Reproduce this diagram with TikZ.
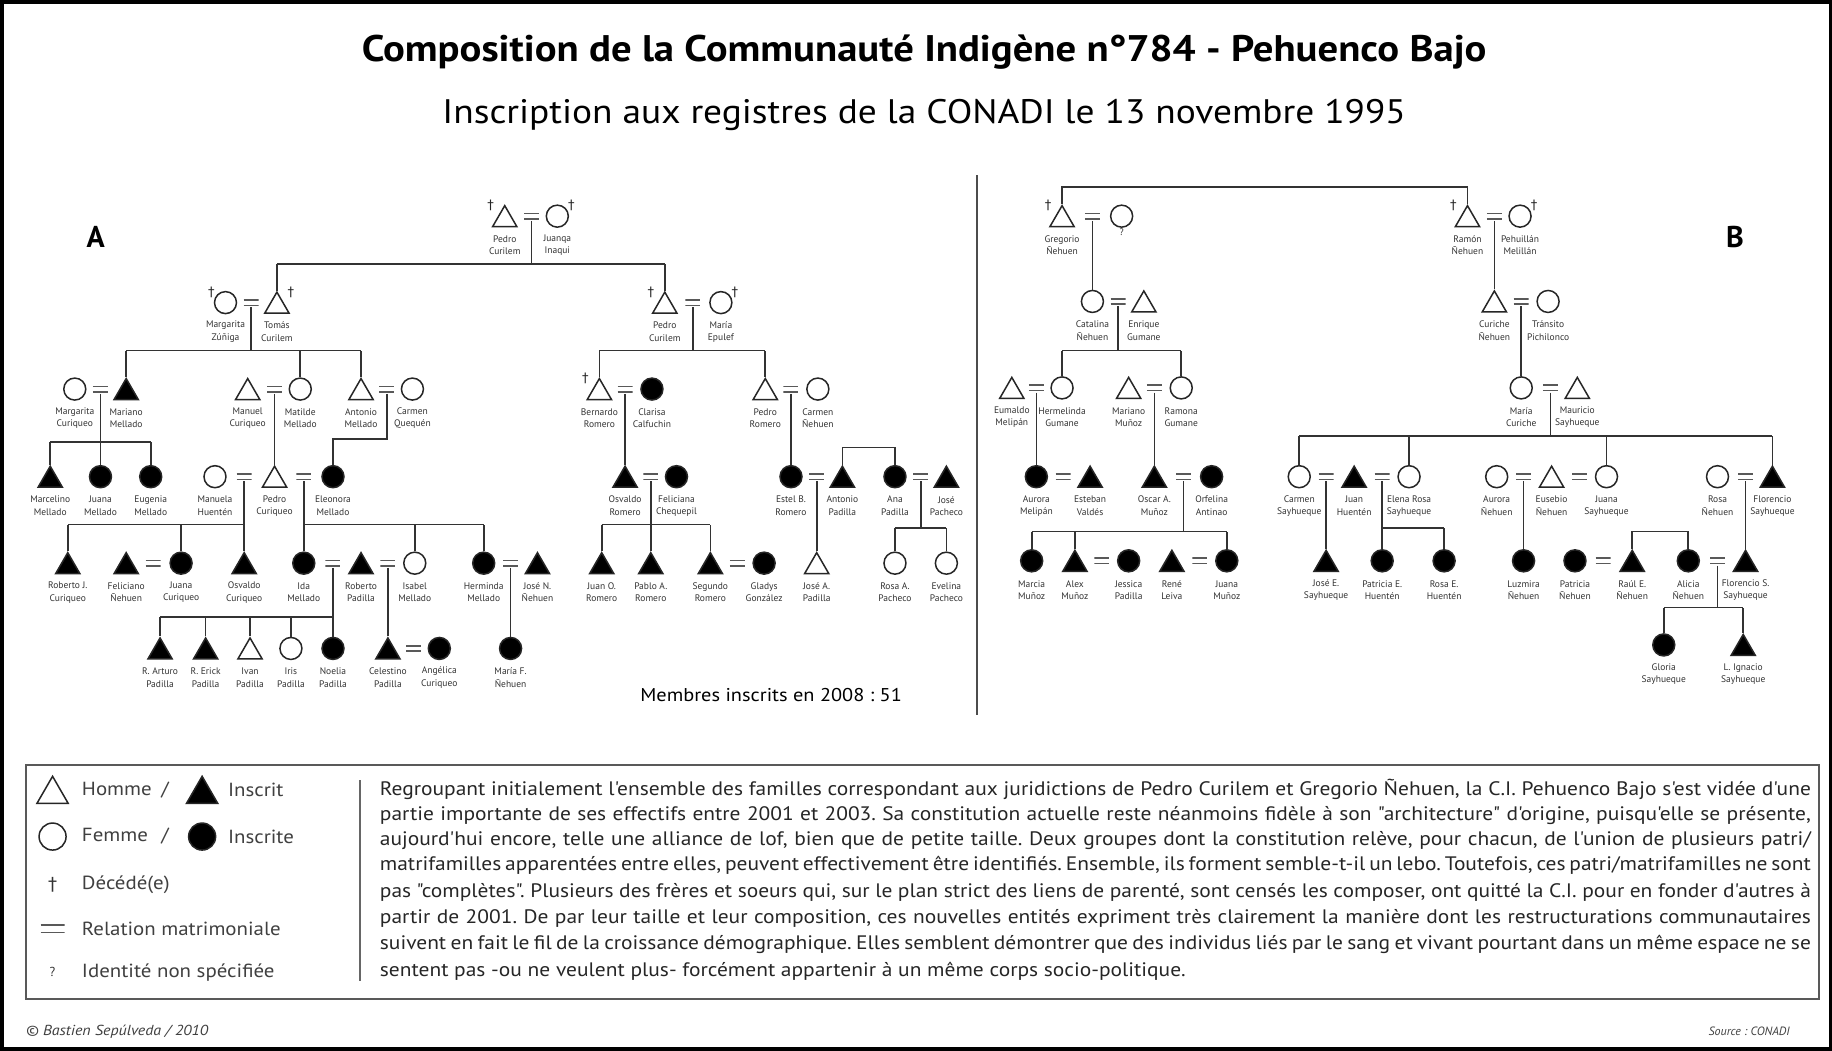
\documentclass[tikz,border=0pt]{standalone}
\usepackage{fontspec}
\setmainfont{PT Sans}
\newfontfamily\widef{PT Sans}[FakeStretch=1.1]
\newfontfamily\dejavu{DejaVu Sans}
\usetikzlibrary{shapes.geometric}
\frenchspacing
\tikzset{
 ln/.style={line width=1.7pt, black!80},
 pm/.style={draw=black!85, line width=1.5pt, regular polygon, regular polygon sides=3, minimum size=28pt, inner sep=0pt, yshift=-3.5pt},
 pmf/.style={pm, fill=black},
 pf/.style={draw=black!85, line width=1.5pt, circle, minimum size=22pt, inner sep=0pt},
 pff/.style={pf, fill=black},
 marr/.style={inner sep=0pt, minimum width=15pt, minimum height=9pt,
   path picture={\draw[line width=1.6pt, black!65]
     ([yshift=-1.8pt]path picture bounding box.north west) -- ([yshift=-1.8pt]path picture bounding box.north east)
     ([yshift=1.8pt]path picture bounding box.south west) -- ([yshift=1.8pt]path picture bounding box.south east);}},
 lab/.style={align=center, inner sep=0pt, font=\fontsize{9.5}{12.5}\selectfont, text=black!80},
 dg/.style={inner sep=0pt, font=\dejavu\fontsize{13}{13}\selectfont, text=black!85},
 legt/.style={anchor=west, inner sep=0pt, font=\widef\fontsize{19}{19}\selectfont, text=black!75},
 para/.style={anchor=west, inner sep=0pt, font=\widef\fontsize{19.5}{22}\selectfont, text=black!85},
}
\newcommand\Pers[5]{\node[#1] (#2) at (#3,#4) {}; \node[lab] (#2l) at (#3,#4+25) {#5};}
\newcommand\Mar[3]{\node[marr] (#1) at (#2,#3) {};}
\newcommand\DagL[3]{\node[dg] (#1d) at (#2-12,#3-9) {†};}
\newcommand\DagR[3]{\node[dg] (#1d) at (#2+12,#3-9) {†};}
\newcommand\Down[2]{\draw[ln] (#1.south) -- (#1.south |- #2.north);}
\newcommand\Fam[5]{%
 \draw[ln] (#1.south) -- (#1.south |- 0,#2);
 \draw[ln] (#3.north |- 0,#2) -- (#4.north |- 0,#2);
 \foreach \kid in {#5} {\draw[ln] (\kid.north) -- (\kid.north |- 0,#2);}
}
\newcommand\Sib[3]{\draw[ln] (#1.north) -- (#1.north |- 0,#3) -- (#2.north |- 0,#3) -- (#2.north);}
\begin{document}
\begin{tikzpicture}[x=1.16837pt, y=-1.16837pt]
\useasboundingbox (0,0) rectangle (1568,899.5);
\fill[white] (0,0) rectangle (1568,899.5);
\draw[line width=3.5pt] (1.5,1.5) rectangle (1566.5,898);

% titles
\node (title) at (791,45) {\widef\bfseries\fontsize{37}{40}\selectfont Composition de la Communauté Indigène n°784 - Pehuenco Bajo};
\node (sub) at (791,98) {\widef\fontsize{34}{37}\selectfont Inscription aux registres de la CONADI le 13 novembre 1995};
\node (lA) at (82,203) {\bfseries\fontsize{30}{30}\selectfont A};
\node (lB) at (1485,203) {\bfseries\fontsize{30}{30}\selectfont B};
\coordinate (dvt) at (836,150); \coordinate (dvb) at (836,612);
\draw[line width=2pt, black!70] (dvt) -- (dvb);
\node (mem) at (660,595) {\widef\fontsize{18.5}{18.5}\selectfont Membres inscrits en 2008 : 51};

%================ TREE A
% gen 0
\Pers{pm}{a0m}{432}{185}{Pedro\\Curilem} \DagL{a0m}{432}{185}
\Mar{a0}{455}{185}
\Pers{pf}{a0f}{477}{185}{Juanqa\\Inaqui} \DagR{a0f}{477}{185}
% gen 1
\Pers{pf}{a1f}{193}{259}{Margarita\\Zúñiga} \DagL{a1f}{193}{259}
\Mar{a1}{215}{259}
\Pers{pm}{a1m}{237}{259}{Tomás\\Curilem} \DagR{a1m}{237}{259}
\Pers{pm}{a2m}{569}{259}{Pedro\\Curilem} \DagL{a2m}{569}{259}
\Mar{a2}{593}{259}
\Pers{pf}{a2f}{617}{259}{María\\Epulef} \DagR{a2f}{617}{259}
\Fam{a0}{226}{a1m}{a2m}{a1m,a2m}
% gen 2 left
\Pers{pf}{b1f}{64}{333}{Margarita\\Curiqueo} \Mar{b1}{86}{333} \Pers{pmf}{b1m}{108}{333}{Mariano\\Mellado}
\Pers{pm}{b2m}{212}{333}{Manuel\\Curiqueo} \Mar{b2}{235}{333} \Pers{pf}{b2f}{257}{333}{Matilde\\Mellado}
\Pers{pm}{b3m}{309}{333}{Antonio\\Mellado} \Mar{b3}{331}{333} \Pers{pf}{b3f}{353}{333}{Carmen\\Quequén}
\Fam{a1}{300}{b1m}{b3m}{b1m,b2f,b3m}
% gen 2 right
\Pers{pm}{b4m}{513}{333}{Bernardo\\Romero} \DagL{b4m}{513}{333}
\Mar{b4}{535}{333} \Pers{pff}{b4f}{558}{333}{Clarisa\\Calfuchin}
\Pers{pm}{b5m}{655}{333}{Pedro\\Romero} \Mar{b5}{677}{333} \Pers{pf}{b5f}{700}{333}{Carmen\\Ñehuen}
\Fam{a2}{300}{b4m}{b5m}{b4m,b5m}
% gen 3 left
\Pers{pmf}{c1}{43}{408}{Marcelino\\Mellado} \Pers{pff}{c2}{86}{408}{Juana\\Mellado} \Pers{pff}{c3}{129}{408}{Eugenia\\Mellado}
\Fam{b1}{378}{c1}{c3}{c1,c2,c3}
\Pers{pf}{c4f}{184}{408}{Manuela\\Huentén} \Mar{c4}{209}{408} \Pers{pm}{c4m}{235}{408}{Pedro\\Curiqueo}
\Mar{c5}{260}{408} \Pers{pff}{c5f}{285}{408}{Eleonora\\Mellado}
\Down{b2}{c4m}
\draw[ln] (b3.south) -- (b3.south |- 0,376) -- (c5f.north |- 0,376) -- (c5f.north);
% gen 3 right
\Pers{pmf}{c6m}{535}{408}{Osvaldo\\Romero} \Mar{c6}{557}{408} \Pers{pff}{c6f}{579}{408}{Feliciana\\Chequepil}
\Down{b4}{c6m}
\Pers{pff}{c7f}{677}{408}{Estel B.\\Romero} \Mar{c7}{699}{408} \Pers{pmf}{c7m}{721}{408}{Antonio\\Padilla}
\Down{b5}{c7f}
\Pers{pff}{c8f}{766}{408}{Ana\\Padilla} \Mar{c8}{788}{408} \Pers{pmf}{c8m}{810}{408}{José\\Pacheco}
\Sib{c7m}{c8f}{383}
% gen 4 left
\Pers{pmf}{d1}{58}{482}{Roberto J.\\Curiqueo}
\Pers{pmf}{d2m}{108}{482}{Feliciano\\Ñehuen} \Mar{d2}{131}{482} \Pers{pff}{d2f}{155}{482}{Juana\\Curiqueo}
\Pers{pmf}{d3}{209}{482}{Osvaldo\\Curiqueo}
\Fam{c4}{449}{d1}{d3}{d1,d2f,d3}
\Pers{pff}{d4f}{260}{482}{Ida\\Mellado} \Mar{d4}{285}{482} \Pers{pmf}{d4m}{309}{482}{Roberto\\Padilla}
\Mar{d5}{332}{482} \Pers{pf}{d5f}{355}{482}{Isabel\\Mellado}
\Pers{pff}{d6f}{414}{482}{Herminda\\Mellado} \Mar{d6}{437}{482} \Pers{pmf}{d6m}{460}{482}{José N.\\Ñehuen}
\Fam{c5}{449}{d4f}{d6f}{d4f,d5f,d6f}
% gen 4 right
\Pers{pmf}{d7}{515}{482}{Juan O.\\Romero} \Pers{pmf}{d8}{557}{482}{Pablo A.\\Romero}
\Pers{pmf}{d9m}{608}{482}{Segundo\\Romero} \Mar{d9}{631}{482} \Pers{pff}{d9f}{654}{482}{Gladys\\González}
\Fam{c6}{449}{d7}{d9m}{d7,d8,d9m}
\Pers{pm}{d10}{699}{482}{José A.\\Padilla} \Down{c7}{d10}
\Pers{pf}{d11}{766}{482}{Rosa A.\\Pacheco} \Pers{pf}{d12}{810}{482}{Evelina\\Pacheco}
\Fam{c8}{452}{d11}{d12}{d11,d12}
% gen 5
\Pers{pmf}{e1}{137}{555}{R. Arturo\\Padilla} \Pers{pmf}{e2}{176}{555}{R. Erick\\Padilla}
\Pers{pm}{e3}{214}{555}{Ivan\\Padilla} \Pers{pf}{e4}{249}{555}{Iris\\Padilla} \Pers{pff}{e5}{285}{555}{Noelia\\Padilla}
\Fam{d4}{528}{e1}{e5}{e1,e2,e3,e4,e5}
\Pers{pmf}{e6m}{332}{555}{Celestino\\Padilla} \Mar{e6}{354}{555} \Pers{pff}{e6f}{376}{555}{Angélica\\Curiqueo}
\Down{d5}{e6m}
\Pers{pff}{e7}{437}{555}{María F.\\Ñehuen} \Down{d6}{e7}

%================ TREE B
\Pers{pm}{g0m}{909}{185}{Gregorio\\Ñehuen} \DagL{g0m}{909}{185}
\Mar{g0}{935}{185}
\node[pf] (g0f) at (960,185) {}; \node[lab] (g0fl) at (960,199) {?};
\Pers{pm}{h0m}{1256}{185}{Ramón\\Ñehuen} \DagL{h0m}{1256}{185}
\Mar{h0}{1279}{185}
\Pers{pf}{h0f}{1301}{185}{Pehuillán\\Melillán} \DagR{h0f}{1301}{185}
\Sib{g0m}{h0m}{160}
% gen 1
\Pers{pf}{g1f}{935}{258}{Catalina\\Ñehuen} \Mar{g1}{957}{258} \Pers{pm}{g1m}{979}{258}{Enrique\\Gumane}
\Down{g0}{g1f}
\Pers{pm}{h1m}{1279}{258}{Curiche\\Ñehuen} \Mar{h1}{1302}{258} \Pers{pf}{h1f}{1325}{258}{Tránsito\\Pichilonco}
\Down{h0}{h1m}
% gen 2
\Pers{pm}{g2m}{866}{332}{Eumaldo\\Melipán} \Mar{g2}{887}{332} \Pers{pf}{g2f}{909}{332}{Hermelinda\\Gumane}
\Pers{pm}{g3m}{966}{332}{Mariano\\Muñoz} \Mar{g3}{988}{332} \Pers{pf}{g3f}{1011}{332}{Ramona\\Gumane}
\Fam{g1}{300}{g2f}{g3f}{g2f,g3f}
\Pers{pf}{h2f}{1302}{332}{María\\Curiche} \Mar{h2}{1327}{332} \Pers{pm}{h2m}{1350}{332}{Mauricio\\Sayhueque}
\Down{h1}{h2f}
% gen 3
\Pers{pff}{g4f}{887}{408}{Aurora\\Melipán} \Mar{g4}{910}{408} \Pers{pmf}{g4m}{933}{408}{Esteban\\Valdés}
\Down{g2}{g4f}
\Pers{pmf}{g5m}{988}{408}{Oscar A.\\Muñoz} \Mar{g5}{1013}{408} \Pers{pff}{g5f}{1037}{408}{Orfelina\\Antinao}
\Down{g3}{g5m}
\Pers{pf}{h3f}{1112}{408}{Carmen\\Sayhueque} \Mar{h3}{1135}{408} \Pers{pmf}{h3m}{1159}{408}{Juan\\Huentén}
\Mar{h4}{1183}{408} \Pers{pf}{h4f}{1206}{408}{Elena Rosa\\Sayhueque}
\Pers{pf}{h5f}{1281}{408}{Aurora\\Ñehuen} \Mar{h5}{1304}{408} \Pers{pm}{h5m}{1328}{408}{Eusebio\\Ñehuen}
\Mar{h6}{1352}{408} \Pers{pf}{h6f}{1375}{408}{Juana\\Sayhueque}
\Pers{pf}{h7f}{1470}{408}{Rosa\\Ñehuen} \Mar{h7}{1494}{408} \Pers{pmf}{h7m}{1517}{408}{Florencio\\Sayhueque}
\Fam{h2}{373}{h3f}{h7m}{h3f,h4f,h6f,h7m}
% gen 4
\Pers{pff}{i1}{883}{480}{Marcia\\Muñoz} \Pers{pmf}{i2m}{920}{480}{Alex\\Muñoz} \Mar{i2}{943}{480}
\Pers{pff}{i2f}{966}{480}{Jessica\\Padilla} \Pers{pmf}{i3m}{1003}{480}{René\\Leiva} \Mar{i3}{1027}{480}
\Pers{pff}{i3f}{1050}{480}{Juana\\Muñoz}
\Fam{g5}{455}{i1}{i3f}{i1,i2m,i3f}
\Pers{pmf}{j1}{1135}{480}{José E.\\Sayhueque} \Down{h3}{j1}
\Pers{pff}{j2}{1183}{480}{Patricia E.\\Huentén} \Pers{pff}{j3}{1236}{480}{Rosa E.\\Huentén}
\Fam{h4}{452}{j2}{j3}{j2,j3}
\Pers{pff}{j4}{1304}{480}{Luzmira\\Ñehuen} \Down{h5}{j4}
\Pers{pff}{j5f}{1348}{480}{Patricia\\Ñehuen} \Mar{j5}{1372}{480} \Pers{pmf}{j5m}{1397}{480}{Raúl E.\\Ñehuen}
\Pers{pff}{j6f}{1445}{480}{Alicia\\Ñehuen} \Mar{j6}{1470}{480} \Pers{pmf}{j6m}{1494}{480}{Florencio S.\\Sayhueque}
\Down{h7}{j6m}
\Sib{j5m}{j6f}{455}
% gen 5
\Pers{pff}{k1}{1424}{552}{Gloria\\Sayhueque} \Pers{pmf}{k2}{1492}{552}{L. Ignacio\\Sayhueque}
\Fam{j6}{520}{k1}{k2}{k1,k2}

%================ LEGEND
\draw[line width=2pt, black!65] (22,655) rectangle (1557,855);
\coordinate (ldt) at (308,668); \coordinate (ldb) at (308,840);
\draw[line width=2pt, black!60] (ldt) -- (ldb);
\node[pm, minimum size=36pt, yshift=-1pt] (lg1) at (45,676) {};
\node[pmf, minimum size=36pt, yshift=-1pt] (lg2) at (173,676) {};
\node[pf, minimum size=27pt] (lg3) at (45,716) {};
\node[pff, minimum size=27pt] (lg4) at (173,716) {};
\node[inner sep=0pt, font=\dejavu\fontsize{18}{18}\selectfont, text=black!80] (lg5) at (45,757) {†};
\node[marr, minimum width=24pt, minimum height=11pt] (lg6) at (45,795) {};
\node[inner sep=0pt, font=\fontsize{13}{13}\selectfont, text=black!80] (lg7) at (45,832) {?};
\node[legt] (lt1) at (70,676) {Homme\hspace{0.5em}/};
\node[legt] (lt2) at (195,676) {Inscrit};
\node[legt] (lt3) at (70,716) {Femme\hspace{0.7em}/};
\node[legt] (lt4) at (195,716) {Inscrite};
\node[legt] (lt5) at (70,757) {Décédé(e)};
\node[legt] (lt6) at (70,795) {Relation matrimoniale};
\node[legt] (lt7) at (70,832) {Identité non spécifiée};

\node[para] (p1) at (325,676) {\makebox[1431pt][s]{Regroupant initialement l'ensemble des familles correspondant aux juridictions de Pedro Curilem et Gregorio Ñehuen, la C.I. Pehuenco Bajo s'est vidée d'une}};
\node[para] (p2) at (325,698) {\makebox[1431pt][s]{partie importante de ses effectifs entre 2001 et 2003. Sa constitution actuelle reste néanmoins fidèle à son "architecture" d'origine, puisqu'elle se présente,}};
\node[para] (p3) at (325,719.5) {\makebox[1431pt][s]{aujourd'hui encore, telle une alliance de lof, bien que de petite taille. Deux groupes dont la constitution relève, pour chacun, de l'union de plusieurs patri/}};
\node[para] (p4) at (325,741) {\makebox[1431pt][s]{matrifamilles apparentées entre elles, peuvent effectivement être identifiés. Ensemble, ils forment semble-t-il un lebo. Toutefois, ces patri/matrifamilles ne sont}};
\node[para] (p5) at (325,763.5) {\makebox[1431pt][s]{pas "complètes". Plusieurs des frères et soeurs qui, sur le plan strict des liens de parenté, sont censés les composer, ont quitté la C.I. pour en fonder d'autres à}};
\node[para] (p6) at (325,786) {\makebox[1431pt][s]{partir de 2001. De par leur taille et leur composition, ces nouvelles entités expriment très clairement la manière dont les restructurations communautaires}};
\node[para] (p7) at (325,808.5) {\makebox[1431pt][s]{suivent en fait le fil de la croissance démographique. Elles semblent démontrer que des individus liés par le sang et vivant pourtant dans un même espace ne se}};
\node[para] (p8) at (325,831) {sentent pas -ou ne veulent plus- forcément appartenir à un même corps socio-politique.};

% footer
\node[anchor=west, inner sep=0pt, font=\widef\itshape\fontsize{14.5}{14.5}\selectfont, text=black!75] (ft1) at (22,883) {© Bastien Sepúlveda / 2010};
\node[anchor=east, inner sep=0pt, font=\itshape\fontsize{12}{12}\selectfont, text=black!75] (ft2) at (1532,883) {Source : CONADI};
\end{tikzpicture}
\end{document}
